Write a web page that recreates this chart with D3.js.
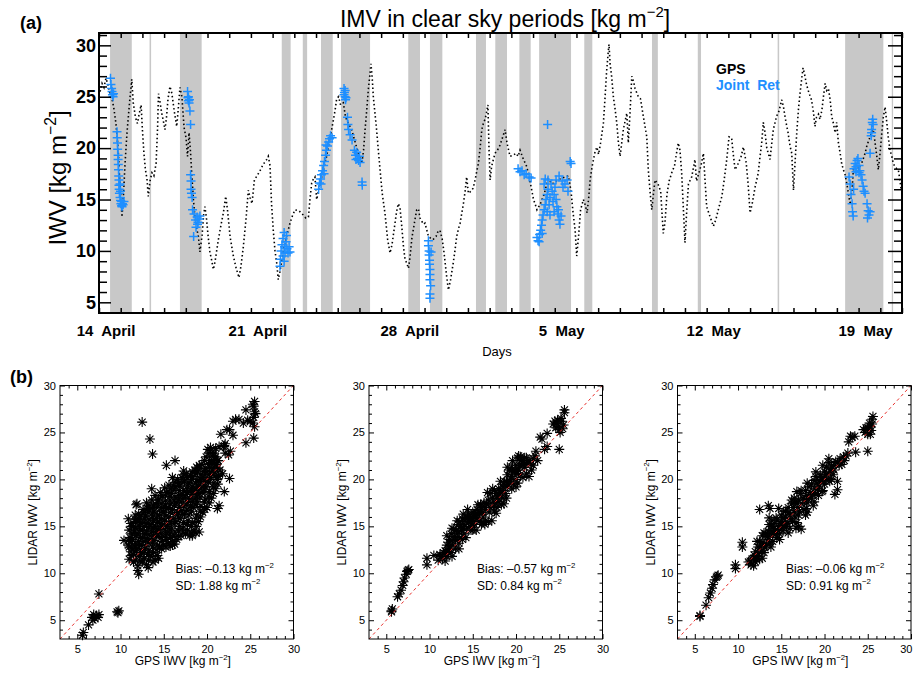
<!DOCTYPE html>
<html>
<head>
<meta charset="utf-8">
<script src="https://cdn.jsdelivr.net/npm/d3@7"></script>
<style>
  body { margin: 0; background: #fff; }
  text { font-family: "Liberation Sans", Arial, Helvetica, sans-serif; }
</style>
</head>
<body>
<div id="container"></div>
<script>
// ---------- data: panel (a) ----------
// days since 14 April 00:00, IWV value
const gpsSeries = [
  [0.05,25.5],[0.14,26.3],[0.23,25.9],[0.32,26.8],[0.41,26.2],[0.51,25.2],[0.60,24.8],[0.69,23.8],[0.78,22.4],[0.88,20.0],
  [0.94,17.5],[1.01,15.0],[1.06,13.3],[1.13,15.5],[1.20,18.5],[1.29,21.5],[1.41,24.5],[1.51,26.7],[1.58,24.4],[1.68,23.0],
  [1.77,22.4],[1.84,23.2],[1.94,24.2],[2.00,21.8],[2.07,19.5],[2.14,17.9],[2.21,17.0],[2.27,15.3],[2.35,16.8],[2.44,17.6],
  [2.53,17.3],[2.63,18.5],[2.70,22.0],[2.74,25.3],[2.81,24.5],[2.89,23.4],[2.95,22.8],[3.04,21.8],[3.11,23.0],[3.18,24.8],
  [3.27,26.0],[3.36,25.3],[3.46,23.7],[3.58,22.1],[3.64,23.5],[3.73,25.9],[3.82,25.0],[3.92,22.0],[4.01,21.0],[4.08,19.2],
  [4.15,21.5],[4.22,19.5],[4.27,17.6],[4.35,15.0],[4.42,13.3],[4.52,12.0],[4.58,11.4],[4.65,9.9],[4.75,11.5],[4.82,13.5],
  [4.88,14.3],[4.95,13.2],[5.03,11.4],[5.11,9.9],[5.19,9.1],[5.27,8.2],[5.35,9.0],[5.50,11.1],[5.62,12.5],[5.73,13.7],
  [5.84,15.3],[5.92,14.0],[6.04,11.4],[6.19,9.5],[6.31,8.4],[6.45,7.4],[6.54,8.5],[6.65,10.4],[6.77,13.0],[6.88,15.9],
  [6.96,15.2],[7.05,14.6],[7.16,16.9],[7.28,17.3],[7.42,17.8],[7.56,18.4],[7.73,18.9],[7.80,19.2],[7.88,18.3],[7.95,14.6],
  [8.03,12.0],[8.11,10.0],[8.19,8.8],[8.26,7.2],[8.34,8.0],[8.43,9.2],[8.57,10.8],[8.69,11.8],[8.80,12.7],[8.91,13.4],
  [9.03,14.0],[9.22,13.9],[9.41,13.5],[9.53,13.2],[9.65,13.3],[9.72,15.0],[9.80,16.6],[9.88,17.0],[9.95,17.2],[10.03,15.0],
  [10.11,15.8],[10.18,16.5],[10.34,17.9],[10.46,18.9],[10.58,20.2],[10.72,21.8],[10.88,23.7],[10.95,24.8],[11.04,25.0],[11.13,24.2],
  [11.26,24.4],[11.36,23.0],[11.47,22.5],[11.64,21.8],[11.80,20.6],[11.95,19.5],[12.11,18.5],[12.19,19.8],[12.26,21.8],[12.34,23.8],
  [12.41,25.7],[12.49,27.3],[12.53,28.2],[12.59,26.8],[12.64,25.0],[12.72,23.3],[12.79,21.8],[12.87,19.8],[12.95,17.9],[13.05,15.6],
  [13.18,13.6],[13.30,11.1],[13.41,9.8],[13.50,10.6],[13.62,12.4],[13.71,13.8],[13.79,14.6],[13.87,14.2],[13.95,12.4],[14.03,10.4],
  [14.10,9.2],[14.18,8.8],[14.26,8.3],[14.33,9.4],[14.42,11.3],[14.54,12.8],[14.64,14.0],[14.72,14.1],[14.79,13.2],[14.87,12.9],
  [14.95,12.6],[15.02,12.7],[15.12,11.9],[15.18,11.4],[15.30,11.2],[15.39,11.1],[15.53,11.4],[15.62,11.9],[15.71,12.0],[15.81,11.2],
  [15.90,9.8],[16.02,7.5],[16.10,6.2],[16.20,7.2],[16.32,8.8],[16.40,10.0],[16.48,11.4],[16.57,12.2],[16.64,12.7],[16.71,13.6],
  [16.79,14.6],[16.87,15.8],[16.94,17.2],[17.02,15.6],[17.14,15.8],[17.24,16.1],[17.33,16.9],[17.42,17.9],[17.48,18.5],[17.56,20.0],
  [17.64,21.8],[17.72,22.5],[17.79,22.8],[17.86,23.5],[17.92,24.2],[17.97,20.0],[18.02,16.9],[18.09,18.2],[18.16,18.8],[18.25,19.5],
  [18.36,19.8],[18.48,20.3],[18.59,21.0],[18.71,21.8],[18.80,20.5],[18.94,19.2],[19.08,19.3],[19.22,19.5],[19.31,19.2],[19.40,19.8],
  [19.54,19.0],[19.71,18.2],[19.82,17.2],[19.94,15.9],[20.02,15.0],[20.09,14.6],[20.18,14.0],[20.32,14.5],[20.51,15.5],[20.69,17.0],
  [20.88,16.5],[21.06,16.8],[21.24,17.0],[21.47,17.2],[21.63,17.3],[21.75,15.8],[21.84,13.8],[21.94,12.0],[22.01,9.5],[22.10,11.5],
  [22.19,14.0],[22.32,15.0],[22.40,14.5],[22.49,13.7],[22.57,15.3],[22.63,16.9],[22.72,18.2],[22.84,19.5],[22.94,20.1],[23.02,19.4],
  [23.11,20.5],[23.24,22.4],[23.32,25.0],[23.39,27.5],[23.47,29.5],[23.50,30.1],[23.55,28.2],[23.62,27.0],[23.70,25.0],[23.78,23.8],
  [23.86,22.4],[23.93,20.6],[24.01,19.2],[24.08,20.4],[24.16,21.8],[24.24,22.6],[24.32,23.4],[24.39,20.5],[24.47,23.5],[24.55,27.0],
  [24.63,26.5],[24.70,25.8],[24.85,25.0],[24.95,24.8],[25.08,23.1],[25.24,21.1],[25.31,17.9],[25.39,15.8],[25.47,14.0],[25.55,15.6],
  [25.62,16.9],[25.76,16.5],[25.88,15.8],[26.00,11.7],[26.08,12.8],[26.17,15.5],[26.27,16.8],[26.39,17.6],[26.52,18.3],[26.61,19.5],
  [26.69,20.5],[26.77,19.8],[26.85,17.5],[26.94,13.5],[27.00,10.8],[27.07,13.5],[27.16,16.5],[27.31,17.2],[27.46,18.9],[27.53,16.8],
  [27.63,17.5],[27.74,18.3],[27.85,19.5],[27.92,17.0],[28.00,14.3],[28.16,13.3],[28.31,12.4],[28.43,13.1],[28.57,14.3],[28.70,15.3],
  [28.80,16.8],[28.92,18.8],[29.03,21.1],[29.15,21.0],[29.22,19.5],[29.31,17.9],[29.45,18.5],[29.59,19.2],[29.69,20.1],[29.82,18.6],
  [29.91,16.5],[30.00,13.7],[30.09,14.5],[30.23,16.2],[30.37,17.5],[30.46,19.2],[30.53,20.4],[30.61,22.5],[30.69,21.5],[30.77,20.0],
  [30.85,19.4],[30.92,18.9],[30.99,20.3],[31.07,21.8],[31.22,23.1],[31.33,23.6],[31.46,24.7],[31.54,24.0],[31.63,22.8],[31.75,21.5],
  [31.84,20.2],[31.92,19.5],[32.00,15.9],[32.07,18.5],[32.15,21.5],[32.23,23.8],[32.30,25.3],[32.37,26.6],[32.44,27.8],[32.52,27.1],
  [32.60,26.2],[32.68,25.6],[32.76,25.1],[32.83,24.7],[32.92,23.5],[32.99,22.1],[33.06,23.0],[33.15,23.3],[33.22,22.8],[33.31,23.7],
  [33.38,25.0],[33.46,26.3],[33.53,25.6],[33.61,25.8],[33.69,24.7],[33.76,23.1],[33.84,22.4],[33.92,21.5],[33.99,22.5],[34.07,20.5],
  [34.15,19.5],[34.22,18.5],[34.30,17.9],[34.38,17.4],[34.45,16.6],[34.54,15.5],[34.61,14.5],[34.70,16.0],[34.76,17.9],[34.88,18.3],
  [35.00,18.0],[35.12,18.4],[35.22,19.0],[35.30,19.5],[35.39,20.3],[35.53,21.1],[35.61,21.6],[35.68,21.8],[35.76,20.5],[35.84,19.2],
  [35.91,17.9],[35.99,19.5],[36.07,21.5],[36.14,23.0],[36.22,24.0],[36.30,22.5],[36.37,21.0],[36.45,19.8],[36.53,19.2],[36.60,18.5],
  [36.68,18.2],[36.76,18.0],[36.83,17.9],[36.91,16.8],[36.96,16.0]
];

const jointRet = [
  [0.53,26.8],[0.55,26.2],[0.58,25.8],[0.60,25.5],[0.62,25.2],[0.65,25.0],[0.67,25.3],
  [0.83,21.6],[0.84,21.0],[0.85,20.5],[0.86,19.9],[0.88,19.3],[0.88,18.9],[0.89,18.4],[0.90,17.9],[0.91,17.3],
  [0.92,16.9],[0.92,16.4],[0.93,16.0],[0.94,15.6],[0.97,15.2],[0.99,14.9],[1.01,14.6],[1.04,14.4],[1.06,14.3],
  [1.08,14.6],[1.04,14.8],[0.97,16.5],[0.99,15.8],[1.11,14.5],[1.15,14.8],
  [4.08,25.5],[4.10,24.9],[4.12,24.6],[4.15,24.4],[4.12,25.0],[4.17,24.7],[4.19,23.6],[4.22,22.3],
  [4.22,17.4],[4.24,16.8],[4.24,16.0],[4.26,15.6],[4.29,15.2],
  [4.31,14.0],[4.38,13.6],[4.45,13.0],[4.52,13.3],[4.56,12.8],[4.61,13.1],[4.47,12.3],[4.36,11.4],[4.54,12.6],[4.65,13.4],
  [8.34,8.5],[8.36,9.2],[8.39,10.0],[8.43,10.6],[8.48,11.2],[8.53,11.8],[8.55,10.4],[8.57,9.8],[8.62,10.9],[8.66,10.2],
  [8.71,9.8],[8.76,10.4],[8.80,9.9],[8.48,9.5],[8.64,11.5],[8.53,9.0],
  [10.12,16.0],[10.16,16.6],[10.21,17.0],[10.25,17.4],[10.30,17.8],[10.35,18.3],[10.39,18.7],[10.44,19.3],[10.48,19.8],
  [10.53,20.2],[10.58,20.6],[10.62,20.9],[10.67,21.2],[10.74,21.0],[10.46,20.3],[10.23,16.5],[10.37,17.5],
  [11.29,25.8],[11.31,25.4],[11.34,25.0],[11.36,24.7],[11.34,25.6],[11.29,25.2],[11.38,24.9],
  [11.45,23.0],[11.47,22.3],[11.50,21.8],[11.57,21.3],[11.66,20.8],
  [11.77,19.8],[11.82,19.3],[11.87,19.6],[11.91,19.0],[11.96,18.8],[12.00,19.2],[12.03,18.6],[11.84,18.9],
  [12.12,16.7],[12.13,16.4],
  [15.18,11.0],[15.18,10.5],[15.21,10.0],[15.21,9.6],[15.23,9.1],[15.23,8.7],[15.25,8.2],[15.25,7.7],[15.25,7.2],
  [15.28,6.6],[15.25,5.8],[15.25,5.4],[15.30,9.9],
  [19.31,18.0],[19.40,17.7],[19.49,17.8],[19.59,17.4],[19.68,17.5],[19.82,17.2],[19.91,17.1],
  [20.67,22.3],
  [20.18,11.3],[20.23,11.0],[20.28,10.9],[20.30,11.6],[20.35,12.0],[20.39,12.5],[20.42,11.7],[20.42,13.0],[20.46,13.5],
  [20.51,14.0],[20.56,14.5],[20.60,15.0],[20.65,15.5],[20.69,16.0],[20.74,14.5],[20.78,15.2],[20.83,16.5],[20.88,15.8],
  [20.92,14.8],[20.97,15.5],[21.01,16.2],[21.06,15.0],[21.10,14.3],[21.15,13.6],[21.20,13.0],[21.24,12.6],[21.17,14.0],
  [21.29,13.4],[20.69,16.9],[20.56,17.0],[20.51,16.5],[21.06,16.9],[21.20,17.3],[21.34,16.8],[21.47,16.5],[21.57,16.9],
  [21.71,18.7],[21.75,18.5],[21.61,15.8],[20.78,13.5],[20.65,13.8],[20.97,13.8],[21.38,16.2],
  [34.56,17.2],[34.61,16.5],[34.65,15.5],[34.70,14.6],[34.72,13.8],[34.75,13.4],[34.77,16.0],[34.79,18.0],[34.84,18.5],
  [34.88,18.2],[34.93,18.8],[34.97,19.0],[35.02,18.3],[35.06,17.8],[35.11,17.4],[35.02,17.6],[34.88,17.7],[35.16,16.9],
  [35.21,16.3],[35.25,15.8],[35.30,15.6],[35.39,14.6],[35.44,13.9],[35.48,13.5],[35.53,13.8],[35.41,13.2],
  [35.53,19.5],[35.58,21.2],[35.60,21.8],[35.63,22.5],[35.65,22.8],[35.67,22.3],[35.60,21.5]
];

// clear sky periods [start day, end day]
const clearSky = [
  [0.51,1.51],[2.33,2.40],[3.73,4.73],[8.42,8.83],[9.39,9.59],[10.23,10.77],[11.15,12.49],[14.25,14.79],
  [15.25,15.82],[17.37,17.83],[18.26,18.80],[19.37,19.89],[20.28,21.75],[22.36,22.73],[25.48,25.75],
  [27.59,27.74],[31.27,31.34],[34.38,36.14],[36.53,36.59]
];

const dateTickDays = [0, 7, 14, 21, 28, 35];
const dateTickLabels = ["14  April", "21  April", "28  April", "5  May", "12  May", "19  May"];
const iwvTicks = [5, 10, 15, 20, 25, 30];

// ---------- data: panel (b) ----------  [GPS IWV, LIDAR IWV]
const scatterA = [
  [5.6,3.4],[5.7,3.7],[6.3,4.5],[6.7,5.3],[6.9,5.6],[7.0,5.2],[7.2,5.5],[7.4,5.3],[7.5,5.6],[6.8,5.0],[7.5,7.8],
  [9.7,5.8],[9.8,6.0],[9.6,5.9],
  [12.5,26.1],[13.4,24.3],[13.7,22.7],[15.3,21.5],[16.3,22.0],[17.3,20.9],[13.6,19.0],[11.9,17.4],[11.8,17.3],
  [22.6,20.1],[21.2,16.9],[21.4,17.2],[22.0,18.7],[19.1,14.4],[18.3,14.0],[18.7,14.3],[16.0,13.0],[14.4,11.6],
  [13.2,10.6],[12.1,9.9],[12.0,10.3],[11.5,11.2],[11.0,12.8],[10.9,13.5],[10.4,13.5],
  [24.5,23.9],[25.4,24.4],[25.5,25.6],[25.3,26.0],[25.4,26.6],[25.5,27.2],[25.4,27.8],[25.5,28.3],[25.3,28.0],
  [25.6,27.0],[25.0,26.2],[24.7,26.3],[24.2,26.0],[23.7,26.4],[23.3,26.4],[23.0,26.2],[24.5,27.4],[22.6,25.3],
  [23.0,24.7],[22.3,25.3],[21.6,24.8],[22.1,23.8],[22.0,23.6],[21.9,23.5],[21.4,23.5],[21.0,23.3],[22.7,23.0],
  [22.5,22.6],[20.9,22.1],[20.6,22.8],[21.2,22.0],[21.5,21.0],[21.8,20.6],[21.3,20.3],[22.1,22.8],
  [11.0,11.5],[11.2,12.3],[10.9,13.0],[11.1,13.8],[11.0,14.6],[11.2,15.3],[10.9,15.8],
  [11.5,12.0],[11.7,12.8],[11.4,13.6],[11.6,14.4],[11.5,15.0],[11.7,15.7],
  [12.0,10.8],[12.2,11.8],[11.9,12.6],[12.1,13.4],[12.0,14.2],[12.2,15.0],[11.9,15.7],[12.1,16.3],
  [12.5,11.2],[12.7,12.2],[12.4,13.0],[12.6,13.8],[12.5,14.6],[12.7,15.4],[12.4,16.2],[12.6,16.8],
  [13.0,10.9],[13.2,12.0],[12.9,12.9],[13.1,13.7],[13.0,14.5],[13.2,15.3],[12.9,16.1],[13.1,16.9],[13.0,17.5],
  [13.5,11.8],[13.7,12.8],[13.4,13.6],[13.6,14.4],[13.5,15.2],[13.7,16.0],[13.4,16.9],[13.6,17.8],
  [14.0,11.4],[14.2,12.5],[13.9,13.5],[14.1,14.3],[14.0,15.0],[14.2,15.8],[13.9,16.6],[14.1,17.4],[14.0,18.3],
  [14.5,12.8],[14.7,13.8],[14.4,14.5],[14.6,15.3],[14.5,16.2],[14.7,17.0],[14.4,17.8],[14.6,18.6],
  [15.0,13.0],[15.2,14.0],[14.9,14.8],[15.1,15.6],[15.0,16.5],[15.2,17.3],[14.9,18.2],[15.1,19.1],
  [15.5,13.2],[15.7,14.2],[15.4,15.0],[15.6,16.0],[15.5,17.0],[15.7,17.8],[15.4,18.6],[15.6,19.4],
  [16.0,13.4],[16.2,14.0],[15.9,14.8],[16.1,15.8],[16.0,16.8],[16.2,17.7],[15.9,18.5],[16.1,19.3],[16.0,20.2],
  [16.5,13.6],[16.7,14.5],[16.4,15.5],[16.6,16.5],[16.5,17.5],[16.7,18.3],[16.4,19.2],[16.6,20.0],
  [17.0,14.0],[17.2,14.8],[16.9,15.8],[17.1,16.7],[17.0,17.6],[17.2,18.4],[16.9,19.3],[17.1,20.2],
  [17.5,14.2],[17.7,15.2],[17.4,16.3],[17.6,17.3],[17.5,18.2],[17.7,19.0],[17.4,19.8],[17.6,20.6],
  [18.0,14.0],[18.2,15.0],[17.9,16.2],[18.1,17.2],[18.0,18.0],[18.2,18.8],[17.9,19.6],[18.1,20.4],
  [18.5,14.5],[18.7,15.8],[18.4,17.0],[18.6,17.9],[18.5,18.8],[18.7,19.6],[18.4,20.3],[18.6,21.0],
  [19.0,15.5],[19.2,16.6],[18.9,17.6],[19.1,18.5],[19.0,19.3],[19.2,20.0],[18.9,20.8],[19.1,21.5],
  [19.5,16.5],[19.7,17.6],[19.4,18.6],[19.6,19.4],[19.5,20.2],[19.7,20.9],[19.4,21.6],
  [20.0,17.0],[20.2,18.2],[19.9,19.2],[20.1,20.0],[20.0,20.8],[20.2,21.6],[19.9,22.4],[20.1,23.2],
  [20.5,18.0],[20.7,19.2],[20.4,20.2],[20.6,21.0],[20.5,21.8],[20.7,22.6],[20.4,23.4],
  [21.0,19.0],[21.2,20.0],[20.9,20.8],[21.1,21.6],[21.0,22.4],
  [11.25,11.9],[11.3,12.7],[11.2,13.4],[11.3,14.2],[11.25,15.0],
  [11.75,11.4],[11.8,12.4],[11.7,13.2],[11.8,14.0],[11.75,14.8],[11.8,15.5],[11.7,16.2],
  [12.25,11.3],[12.3,12.2],[12.2,13.0],[12.3,13.8],[12.25,14.6],[12.3,15.4],[12.2,16.0],
  [12.75,11.6],[12.8,12.6],[12.7,13.4],[12.8,14.2],[12.75,15.0],[12.8,15.8],[12.7,16.5],
  [13.25,11.4],[13.3,12.4],[13.2,13.3],[13.3,14.1],[13.25,14.9],[13.3,15.7],[13.2,16.5],[13.3,17.2],
  [13.75,11.2],[13.8,12.2],[13.7,13.2],[13.8,14.0],[13.75,14.8],[13.8,15.6],[13.7,16.4],[13.8,17.2],
  [14.25,11.9],[14.3,13.0],[14.2,13.9],[14.3,14.7],[14.25,15.4],[14.3,16.2],[14.2,17.0],[14.3,17.8],
  [14.75,12.6],[14.8,13.4],[14.7,14.2],[14.8,15.0],[14.75,15.8],[14.8,16.6],[14.7,17.4],[14.8,18.3],
  [15.25,12.8],[15.3,13.6],[15.2,14.4],[15.3,15.2],[15.25,16.1],[15.3,16.9],[15.2,17.7],[15.3,18.6],
  [15.75,12.9],[15.8,13.8],[15.7,14.6],[15.8,15.5],[15.75,16.5],[15.8,17.4],[15.7,18.2],[15.8,19.0],
  [16.25,13.1],[16.3,14.4],[16.2,15.3],[16.3,16.3],[16.25,17.2],[16.3,18.1],[16.2,18.9],[16.3,19.7],
  [16.75,13.9],[16.8,15.0],[16.7,16.0],[16.8,17.0],[16.75,17.9],[16.8,18.8],[16.7,19.6],
  [17.25,14.4],[17.3,15.4],[17.2,16.3],[17.3,17.2],[17.25,18.0],[17.3,18.8],[17.2,19.7],[17.3,20.5],
  [17.75,14.6],[17.8,15.6],[17.7,16.7],[17.8,17.7],[17.75,18.6],[17.8,19.4],[17.7,20.2],
  [18.25,14.3],[18.3,15.4],[18.2,16.6],[18.3,17.6],[18.25,18.4],[18.3,19.2],[18.2,20.0],[18.3,20.8],
  [18.75,15.0],[18.8,16.2],[18.7,17.3],[18.8,18.2],[18.75,19.0],[18.8,19.8],[18.7,20.6],[18.8,21.3],
  [19.25,16.0],[19.3,17.1],[19.2,18.1],[19.3,19.0],[19.25,19.8],[19.3,20.5],[19.2,21.2],
  [19.75,16.8],[19.8,17.9],[19.7,18.9],[19.8,19.8],[19.75,20.5],[19.8,21.2],[19.7,22.0],
  [20.25,17.5],[20.3,18.7],[20.2,19.7],[20.3,20.5],[20.25,21.3],[20.3,22.0],[20.2,22.8],
  [20.75,18.5],[20.8,19.6],[20.7,20.5],[20.8,21.3],[20.75,22.0],[20.8,22.8],
  [21.25,19.5],[21.3,20.4],[21.2,21.2],[21.3,22.0]
];

const scatterB = [
  [5.6,6.0],[5.7,6.2],[5.6,5.9],[6.3,7.5],[6.5,7.8],[6.7,8.2],[6.9,8.7],[7.0,9.1],[7.1,9.5],[7.3,9.9],[7.5,10.3],
  [7.6,10.4],[7.4,10.2],[9.7,11.6],[9.7,10.9],[10.5,11.9],
  [11.0,11.4],[11.2,12.0],[11.5,11.6],[11.8,11.3],[11.8,12.4],[12.0,11.8],[12.0,13.0],[12.2,12.5],[12.3,13.6],
  [12.5,12.2],[12.5,14.2],[12.7,13.0],[12.8,14.7],[13.0,13.5],[13.0,12.6],[13.2,14.2],[13.3,15.2],[13.5,13.8],
  [13.5,15.5],[13.7,14.6],[13.8,15.8],[14.0,14.2],[14.0,15.2],[14.2,16.0],[14.3,14.8],[14.5,15.5],[14.5,16.3],
  [14.7,15.0],[14.8,16.0],[15.0,15.6],[15.0,16.5],[15.2,15.2],[15.3,16.2],[15.5,15.8],[15.5,16.8],[15.8,15.5],
  [15.8,16.5],[16.0,17.0],[16.2,16.0],[16.3,17.5],[16.5,15.6],[16.5,16.8],[16.8,17.8],[16.8,15.5],[17.0,17.0],
  [17.0,18.5],[17.2,15.6],[17.3,18.0],[17.5,18.8],[17.6,17.5],[17.8,18.2],[18.0,19.0],[18.0,17.6],[18.2,18.6],
  [18.3,17.3],[18.5,19.2],[18.5,18.0],[18.7,19.8],[18.8,18.5],[19.0,20.5],[19.0,19.2],[19.2,21.0],[19.3,19.8],
  [19.5,20.3],[19.5,21.3],[19.7,19.5],[19.8,20.8],[20.0,21.5],[20.0,20.0],[20.2,22.3],[20.3,21.0],[20.5,22.4],
  [20.5,20.5],[20.7,21.5],[20.8,22.0],[21.0,21.3],[21.0,22.3],[21.3,21.8],[21.5,20.3],[21.5,22.0],[21.8,21.0],
  [22.0,22.2],[22.2,22.5],[22.5,22.0],[22.8,24.5],[23.0,24.3],[23.3,23.2],[23.6,23.5],[23.6,24.9],[24.3,25.9],
  [24.5,26.2],[24.7,26.0],[25.0,25.3],[25.1,25.0],[25.3,26.2],[25.5,25.8],[25.2,26.5],[25.6,27.4],[25.6,27.1],
  [25.0,23.2],[24.8,26.3],[22.0,21.5],
  [11.3,11.8],[11.6,12.2],[11.9,12.0],[12.1,12.4],[12.4,12.9],[12.6,13.5],[12.9,13.9],[13.1,14.6],[13.4,14.4],
  [13.6,15.0],[13.9,14.8],[14.1,15.6],[14.4,15.9],[14.6,15.8],[14.9,15.3],[15.1,16.0],[15.4,16.4],[15.6,16.2],
  [15.9,17.3],[16.1,16.5],[16.4,17.0],[16.6,17.4],[16.9,16.5],[17.1,17.5],[17.4,17.2],[17.7,18.5],[17.9,18.0],
  [18.1,18.3],[18.4,18.8],[18.6,19.5],[18.9,19.8],[19.1,19.5],[19.4,20.0],[19.6,20.8],[19.9,21.0],[20.1,20.6],
  [20.4,21.5],[20.6,22.0],[20.9,21.6],[21.2,22.3],[21.7,21.6],[22.3,23.0],[24.9,25.6],[25.4,25.4],[24.6,25.5],
  [12.2,13.3],[13.4,13.2],[14.8,14.6],[16.2,15.4],[17.5,16.6],[18.9,18.0],[20.2,19.6],[15.0,14.6],[13.8,13.6],
  [16.0,15.2],[17.8,17.0],[19.5,19.0],
  [12.0,14.0],[12.6,14.8],[13.2,15.6],[13.9,16.3],[14.4,16.8],[15.6,17.3],[16.7,18.6],[17.3,19.0],[18.2,19.8],
  [19.0,21.3],[19.6,22.0],[20.3,22.5],[12.6,11.8],[13.4,12.6],[14.2,13.8],[15.4,14.6],[16.4,15.2],[17.7,16.4],
  [18.6,17.4],[20.0,19.2],[20.8,20.2],[21.2,20.6]
];

const scatterC = [
  [5.6,5.5],[5.6,5.4],[6.3,6.6],[6.6,7.4],[6.8,7.9],[7.0,8.4],[7.1,8.8],[7.3,9.3],[7.5,9.6],[7.7,9.8],[7.6,9.7],
  [9.7,10.9],[9.7,10.5],[10.5,12.8],[10.5,13.3],
  [12.5,16.8],[13.5,17.2],[13.7,16.9],[13.6,15.9],[14.7,16.9],
  [11.2,11.2],[11.5,10.9],[11.8,11.6],[11.8,10.8],[12.0,12.3],[12.0,11.2],[12.2,11.8],[12.3,12.8],[12.5,11.5],
  [12.5,13.4],[12.7,12.4],[12.8,14.0],[13.0,13.0],[13.0,12.2],[13.2,14.2],[13.3,13.0],[13.5,14.5],[13.5,13.6],
  [13.7,13.2],[13.8,15.0],[14.0,14.0],[14.0,13.4],[14.2,15.3],[14.3,14.5],[14.5,15.7],[14.5,13.8],[14.7,15.0],
  [14.8,14.2],[15.0,15.5],[15.0,16.2],[15.2,14.5],[15.3,15.0],[15.5,16.0],[15.5,16.6],[15.7,15.3],[15.8,17.0],
  [16.0,16.2],[16.0,14.8],[16.2,17.4],[16.3,15.5],[16.5,16.5],[16.5,18.0],[16.7,14.8],[16.8,17.5],[16.8,18.7],
  [17.0,16.2],[17.0,15.0],[17.0,17.8],[17.2,18.5],[17.3,14.7],[17.5,18.0],[17.6,16.8],[17.8,18.8],[18.0,17.5],
  [18.0,16.5],[18.2,19.2],[18.5,18.0],[18.5,19.5],[18.7,17.2],[18.8,19.9],[19.0,18.5],[19.0,20.3],[19.2,19.0],
  [19.5,19.8],[19.5,20.5],[19.7,18.7],[19.8,20.2],[20.0,19.5],[20.0,20.8],[20.2,21.3],[20.4,20.0],[20.5,21.8],
  [20.7,21.0],[21.0,21.5],[21.0,20.5],[21.2,18.4],[21.5,18.9],[21.5,19.8],[21.5,21.8],[21.8,22.2],[22.0,21.6],
  [22.3,22.0],[22.5,22.5],[22.7,22.8],[22.8,24.0],[23.0,24.6],[23.2,24.5],[23.5,24.6],[23.6,22.9],[24.5,25.3],
  [24.7,25.0],[25.0,25.5],[25.0,24.8],[25.2,26.0],[25.4,25.2],[25.5,26.4],[25.6,26.7],[25.0,23.0],[25.3,24.8],
  [11.4,11.3],[11.6,11.5],[11.9,11.9],[12.1,11.5],[12.4,12.1],[12.6,12.8],[12.9,13.3],[13.1,12.7],[13.4,13.9],
  [13.6,14.1],[13.9,14.5],[14.1,14.8],[14.4,14.2],[14.6,14.6],[14.9,15.0],[15.1,14.9],[15.4,15.4],[15.6,15.0],
  [15.9,16.5],[16.1,15.8],[16.4,17.0],[16.6,16.0],[16.9,17.0],[17.1,16.6],[17.4,17.4],[17.7,17.8],[17.9,18.3],
  [18.1,17.9],[18.4,18.6],[18.6,18.4],[18.9,19.0],[19.1,19.6],[19.4,19.3],[19.6,20.0],[19.9,19.9],[20.2,20.5],
  [20.5,20.6],[20.8,21.4],[21.1,21.0],[21.3,21.9],[21.7,21.5],[22.2,22.4],[24.8,25.5],[25.3,25.6],[25.5,25.9],
  [13.9,15.6],[15.2,15.9],[16.6,17.6],[17.9,16.9],[19.3,18.3],[20.6,19.8],
  [12.2,13.4],[13.0,14.3],[13.6,15.2],[14.4,15.9],[15.3,16.6],[16.2,17.8],[17.3,18.8],[18.0,19.6],[19.0,20.8],
  [19.8,21.5],[20.5,22.2],[12.8,11.6],[13.8,12.8],[14.8,13.6],[15.8,14.3],[16.8,15.4],[17.8,16.2],[18.8,17.6],
  [19.8,18.8],[20.8,20.0]
];

const scatterStats = [
  ["Bias: \u20130.13 kg m", "SD: 1.88 kg m"],
  ["Bias: \u20130.57 kg m", "SD: 0.84 kg m"],
  ["Bias: \u20130.06 kg m", "SD: 0.91 kg m"]
];
const scatterTicks = [5, 10, 15, 20, 25, 30];

// ---------- drawing ----------
const W = 913, H = 673;
const svg = d3.select('#container').append('svg')
    .attr('width', W)
    .attr('height', H);

svg.append('rect').attr('width', W).attr('height', H).attr('fill', '#fff');

// text with a "m^-2" style superscript
const unitText = (sel, before, fs, after = "]") => {
    sel.append('tspan').text(before);
    sel.append('tspan').attr('font-size', fs * 0.65).attr('dy', -fs * 0.42).text('\u22122');
    sel.append('tspan').attr('dy', fs * 0.42).text(after);
};

// ---- panel (a)
const pa = { left: 99, right: 902, top: 33, bottom: 313 };
const x = d3.scaleLinear().domain([0, 37]).range([pa.left, pa.right]);
const y = d3.scaleLinear().domain([3.96, 31.2]).range([pa.bottom, pa.top]);

svg.append('clipPath').attr('id', 'clipA')
    .append('rect')
    .attr('x', pa.left).attr('y', pa.top)
    .attr('width', pa.right - pa.left).attr('height', pa.bottom - pa.top);

const gA = svg.append('g');

gA.selectAll('rect.band')
    .data(clearSky)
    .join('rect')
    .attr('class', 'band')
    .attr('x', d => x(d[0]))
    .attr('y', pa.top)
    .attr('width', d => x(d[1]) - x(d[0]))
    .attr('height', pa.bottom - pa.top)
    .attr('fill', '#c8c8c8');

const gpsLine = d3.line().x(d => x(d[0])).y(d => y(d[1]));
gA.append('path')
    .datum(gpsSeries)
    .attr('d', gpsLine)
    .attr('clip-path', 'url(#clipA)')
    .attr('fill', 'none')
    .attr('stroke', '#000')
    .attr('stroke-width', 1.6)
    .attr('stroke-dasharray', '1.5,2.6');

gA.selectAll('path.ret')
    .data(jointRet)
    .join('path')
    .attr('class', 'ret')
    .attr('d', 'M-4.5,0H4.5M0,-4.5V4.5')
    .attr('transform', d => `translate(${x(d[0])},${y(d[1])})`)
    .attr('stroke', '#1e8fff')
    .attr('stroke-width', 1.5)
    .attr('fill', 'none');

// axes of (a)
const yMinor = d3.range(4, 32).filter(v => v % 5 !== 0);
const dayTicks = d3.range(0, 38);

const axL = gA.append('g').attr('transform', `translate(${pa.left},0)`)
    .call(d3.axisLeft(y).tickValues(iwvTicks).tickSize(-12).tickPadding(3).tickFormat(d3.format('d')));
axL.selectAll('text').attr('font-size', 18).attr('font-weight', 'bold').attr('fill', '#000');
gA.append('g').attr('transform', `translate(${pa.left},0)`)
    .call(d3.axisLeft(y).tickValues(yMinor).tickSize(-8).tickFormat(''));
gA.append('g').attr('transform', `translate(${pa.right},0)`)
    .call(d3.axisRight(y).tickValues(iwvTicks).tickSize(-14).tickFormat(''));
gA.append('g').attr('transform', `translate(${pa.right},0)`)
    .call(d3.axisRight(y).tickValues(yMinor).tickSize(-8).tickFormat(''));
gA.append('g').attr('transform', `translate(0,${pa.bottom})`)
    .call(d3.axisBottom(x).tickValues(dayTicks).tickSize(-5).tickFormat(''));
gA.append('g').attr('transform', `translate(0,${pa.top})`)
    .call(d3.axisTop(x).tickValues(dayTicks).tickSize(-5).tickFormat(''));
gA.selectAll('.domain').remove();
gA.selectAll('.tick line').attr('stroke', '#000').attr('stroke-width', 1.5);

gA.append('rect')
    .attr('x', pa.left).attr('y', pa.top)
    .attr('width', pa.right - pa.left).attr('height', pa.bottom - pa.top)
    .attr('fill', 'none').attr('stroke', '#000').attr('stroke-width', 2);

gA.selectAll('text.date')
    .data(dateTickDays)
    .join('text')
    .attr('class', 'date')
    .attr('x', d => x(d) + 7)
    .attr('y', 336)
    .attr('text-anchor', 'middle')
    .attr('font-size', 15)
    .attr('font-weight', 'bold')
    .style('white-space', 'pre')
    .text((d, i) => dateTickLabels[i]);

svg.append('text').attr('x', 497).attr('y', 356).attr('text-anchor', 'middle')
    .attr('font-size', 13).text('Days');

unitText(svg.append('text').attr('x', 505).attr('y', 27).attr('text-anchor', 'middle')
    .attr('font-size', 23), 'IMV in clear sky periods [kg m', 23);

unitText(svg.append('text').attr('transform', 'translate(66,178) rotate(-90)')
    .attr('text-anchor', 'middle').attr('font-size', 24), 'IWV [kg m', 24);

svg.append('text').attr('x', 20).attr('y', 29).attr('font-size', 18).attr('font-weight', 'bold').text('(a)');

svg.append('text').attr('x', 716).attr('y', 74).attr('font-size', 14).attr('font-weight', 'bold').text('GPS');
svg.append('text').attr('x', 716).attr('y', 90).attr('font-size', 14).attr('font-weight', 'bold')
    .attr('fill', '#1e8fff').style('white-space', 'pre').text('Joint  Ret');

// ---- panel (b)
svg.append('text').attr('x', 10).attr('y', 383).attr('font-size', 18).attr('font-weight', 'bold').text('(b)');

const pb = { top: 385.5, width: 233.5, height: 253.5 };
const panelLeft = [60, 369, 677.5];
const noteLeft = [115.5, 108, 108.5];
const scatterSets = [scatterA, scatterB, scatterC];
const star = 'M-5,0H5M0,-5V5M-3.5,-3.5L3.5,3.5M-3.5,3.5L3.5,-3.5';

scatterSets.forEach((pts, k) => {
    const g = svg.append('g').attr('transform', `translate(${panelLeft[k]},${pb.top})`);
    const sx = d3.scaleLinear().domain([3, 30]).range([0, pb.width]);
    const sy = d3.scaleLinear().domain([3, 30]).range([pb.height, 0]);
    const minor = d3.range(4, 30).filter(v => v % 5 !== 0);

    g.selectAll('path.pt')
        .data(pts)
        .join('path')
        .attr('class', 'pt')
        .attr('d', star)
        .attr('transform', d => `translate(${sx(d[0])},${sy(d[1])})`)
        .attr('stroke', '#000')
        .attr('stroke-width', 1.1)
        .attr('fill', 'none');

    g.append('line')
        .attr('x1', sx(3)).attr('y1', sy(3)).attr('x2', sx(30)).attr('y2', sy(30))
        .attr('stroke', '#e8302c').attr('stroke-width', 1).attr('stroke-dasharray', '3,3');

    const bx = g.append('g').attr('transform', `translate(0,${pb.height})`)
        .call(d3.axisBottom(sx).tickValues(scatterTicks).tickSize(-5).tickPadding(6).tickFormat(d3.format('d')));
    g.append('g').attr('transform', `translate(0,${pb.height})`)
        .call(d3.axisBottom(sx).tickValues(minor).tickSize(-3).tickFormat(''));
    g.append('g')
        .call(d3.axisLeft(sy).tickValues(scatterTicks).tickSize(-5).tickPadding(4).tickFormat(d3.format('d')));
    g.append('g').call(d3.axisLeft(sy).tickValues(minor).tickSize(-3).tickFormat(''));
    g.append('g').call(d3.axisTop(sx).tickValues(scatterTicks).tickSize(-5).tickFormat(''));
    g.append('g').call(d3.axisTop(sx).tickValues(minor).tickSize(-3).tickFormat(''));
    g.append('g').attr('transform', `translate(${pb.width},0)`)
        .call(d3.axisRight(sy).tickValues(scatterTicks).tickSize(-5).tickFormat(''));
    g.append('g').attr('transform', `translate(${pb.width},0)`)
        .call(d3.axisRight(sy).tickValues(minor).tickSize(-3).tickFormat(''));
    g.selectAll('.domain').remove();
    g.selectAll('.tick line').attr('stroke', '#000');
    g.selectAll('.tick text').attr('font-size', 11).attr('fill', '#000');
    // last panel sits at the page edge: keep its "30" inside
    if (k === 2) {
        bx.selectAll('.tick').filter(d => d === 30).select('text')
            .attr('text-anchor', 'end').attr('x', 913 - panelLeft[k] - pb.width - 1);
    }

    g.append('rect').attr('width', pb.width).attr('height', pb.height)
        .attr('fill', 'none').attr('stroke', '#000').attr('stroke-width', 1);

    unitText(g.append('text').attr('x', pb.width / 2 + 6).attr('y', 279.5)
        .attr('text-anchor', 'middle').attr('font-size', 12), 'GPS IWV [kg m', 12);
    unitText(g.append('text').attr('transform', `translate(-23,${pb.height / 2}) rotate(-90)`)
        .attr('text-anchor', 'middle').attr('font-size', 12), 'LIDAR IWV [kg m', 12);

    unitText(g.append('text').attr('x', noteLeft[k]).attr('y', 187.5).attr('font-size', 12),
        scatterStats[k][0], 12, '');
    unitText(g.append('text').attr('x', noteLeft[k]).attr('y', 204).attr('font-size', 12),
        scatterStats[k][1], 12, '');
});
</script>
</body>
</html>
